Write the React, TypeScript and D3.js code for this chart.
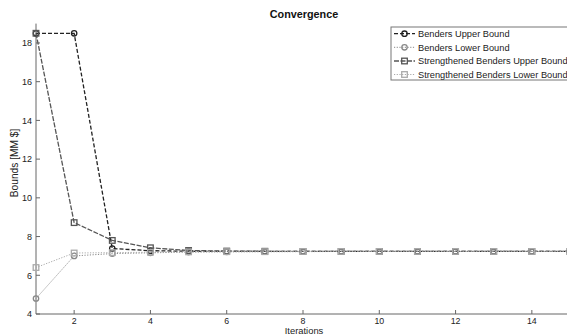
import React from "react";
import * as d3 from "d3";

const iterations = [1, 2, 3, 4, 5, 6, 7, 8, 9, 10, 11, 12, 13, 14, 15];
const bendersUpper = [18.5, 18.5, 7.38, 7.27, 7.24, 7.23, 7.23, 7.23, 7.23, 7.23, 7.23, 7.23, 7.23, 7.23, 7.23];
const bendersLower = [4.8, 7.0, 7.12, 7.16, 7.2, 7.21, 7.22, 7.22, 7.23, 7.23, 7.23, 7.23, 7.23, 7.23, 7.23];
const strUpper = [18.5, 8.72, 7.8, 7.42, 7.28, 7.25, 7.24, 7.23, 7.23, 7.23, 7.23, 7.23, 7.23, 7.23, 7.23];
const strLower = [6.4, 7.15, 7.17, 7.19, 7.21, 7.22, 7.22, 7.23, 7.23, 7.23, 7.23, 7.23, 7.23, 7.23, 7.23];
const xTicks = [2, 4, 6, 8, 10, 12, 14];
const yTicks = [4, 6, 8, 10, 12, 14, 16, 18];
const seriesNames = [
  "Benders Upper Bound",
  "Benders Lower Bound",
  "Strengthened Benders Upper Bound",
  "Strengthened Benders Lower Bound",
];

const W = 567;
const H = 335;
const font = "'Liberation Sans', Arial, Helvetica, sans-serif";

export default function App() {
  const x = d3.scaleLinear().domain([1, 15]).range([36, 570]);
  const y = d3.scaleLinear().domain([4, 19]).range([314, 23.6]);

  const series = [
    { name: seriesNames[0], values: bendersUpper, color: "#222", dash: "4,2", marker: "circle", width: 1.3 },
    { name: seriesNames[1], values: bendersLower, color: "#888", dash: "1.2,1.5", marker: "circle", width: 1 },
    { name: seriesNames[2], values: strUpper, color: "#555", dash: "5,1.5", marker: "square", width: 1.3 },
    { name: seriesNames[3], values: strLower, color: "#aaa", dash: "1.2,1.5", marker: "square", width: 1 },
  ];

  const line = d3
    .line<number>()
    .x((_, i) => x(iterations[i]))
    .y((d) => y(d));

  const marker = (s: any, cx: number, cy: number, key: string) =>
    s.marker === "circle" ? (
      <circle key={key} cx={cx} cy={cy} r={2.7} fill="none" stroke={s.color} strokeWidth={1.3} />
    ) : (
      <rect key={key} x={cx - 2.8} y={cy - 2.8} width={5.6} height={5.6} fill="none" stroke={s.color} strokeWidth={1.3} />
    );

  const legendY = [33.7, 47.3, 61, 74.5];

  return (
    <svg width={W} height={H} style={{ position: "absolute", left: 0, top: 0 }} fontFamily={font}>
      <rect width={W} height={H} fill="#fff" />
      <text x={304} y={18} textAnchor="middle" fontSize={10.8} fontWeight="bold" fill="#111">
        Convergence
      </text>
      {/* axes */}
      <line x1={x(1)} x2={x(1)} y1={y(19)} y2={y(4)} stroke="#666" strokeWidth={1} />
      <line x1={x(1)} x2={W} y1={y(4)} y2={y(4)} stroke="#666" strokeWidth={1} />
      {yTicks.map((t) => (
        <g key={"y" + t}>
          <line x1={x(1)} x2={x(1) + 4} y1={y(t)} y2={y(t)} stroke="#666" />
          <text x={32} y={y(t) + 3.3} textAnchor="end" fontSize={9} fill="#222">
            {t}
          </text>
        </g>
      ))}
      {xTicks.map((t) => (
        <g key={"x" + t}>
          <line x1={x(t)} x2={x(t)} y1={y(4)} y2={y(4) - 4} stroke="#666" />
          <text x={x(t)} y={323.5} textAnchor="middle" fontSize={8.8} fill="#222">
            {t}
          </text>
        </g>
      ))}
      <text x={304} y={334.3} textAnchor="middle" fontSize={9.4} fill="#222">
        Iterations
      </text>
      <text
        transform={`translate(18,163) rotate(-90)`}
        textAnchor="middle"
        fontSize={10.2}
        fill="#222"
      >
        Bounds [MM $]
      </text>
      {/* series */}
      {series.map((s, si) => (
        <g key={"s" + si}>
          <path d={line(s.values) || ""} fill="none" stroke={s.color} strokeWidth={s.width} strokeDasharray={s.dash} />
          {s.values.map((v, i) => marker(s, x(iterations[i]), y(v), `m${si}-${i}`))}
        </g>
      ))}
      {/* legend */}
      <rect x={391} y={27} width={190} height={53} fill="#fff" stroke="#777" strokeWidth={1} />
      {series.map((s, i) => (
        <g key={"l" + i}>
          <line x1={394} x2={415} y1={legendY[i]} y2={legendY[i]} stroke={s.color} strokeWidth={s.width} strokeDasharray={s.dash} />
          {marker(s, 404.5, legendY[i], "lm" + i)}
          <text x={418} y={legendY[i] + 3.2} fontSize={9.25} fill="#222">
            {s.name}
          </text>
        </g>
      ))}
    </svg>
  );
}
